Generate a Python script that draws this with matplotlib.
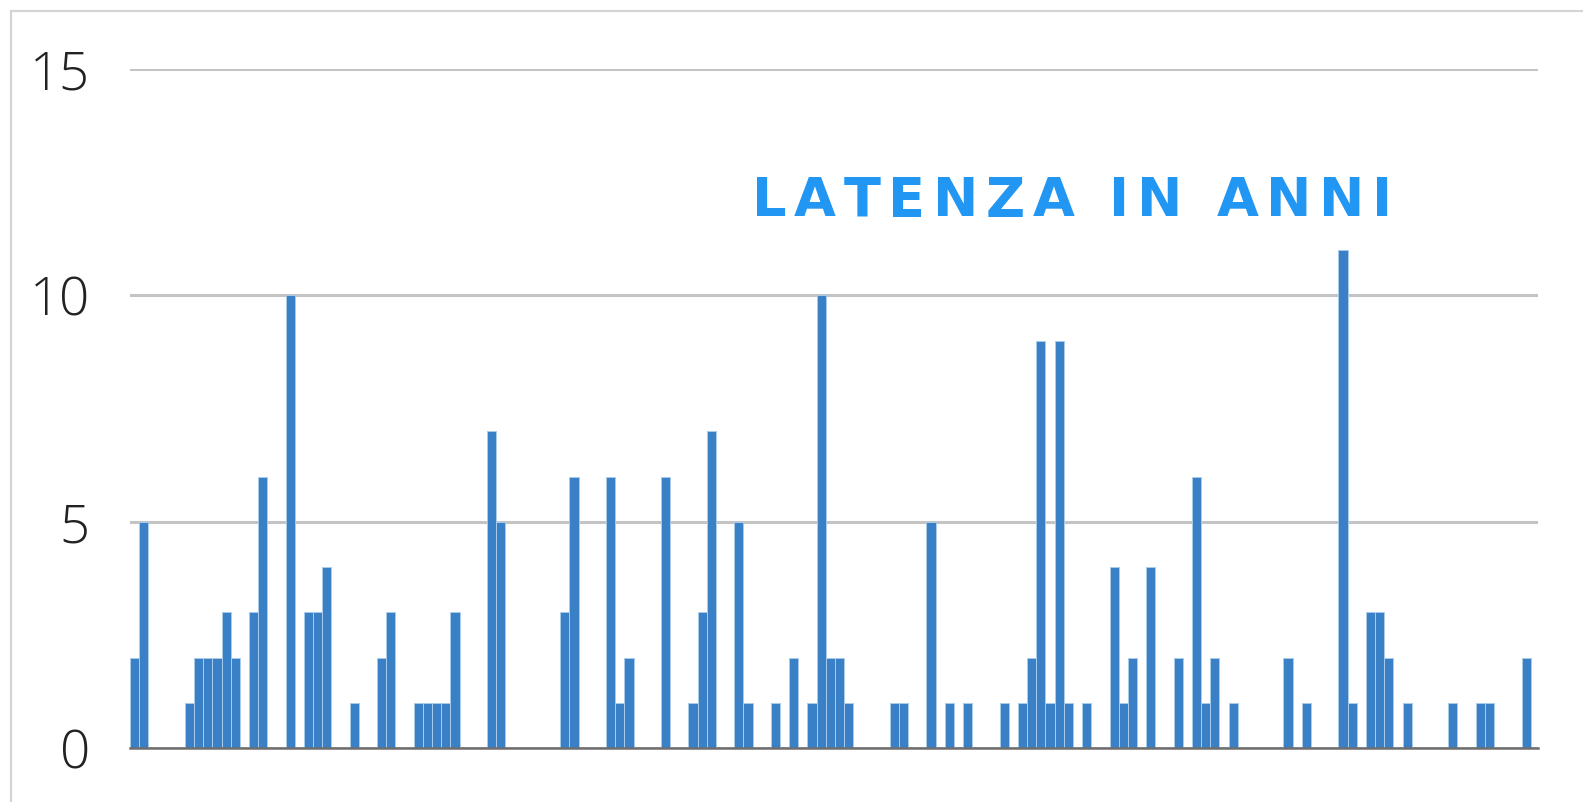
import matplotlib
matplotlib.use("Agg")
import matplotlib.pyplot as plt
from matplotlib.patches import Rectangle
import numpy as np

# Data: latency in years per case
values = [
    2, 5, 0, 0, 0, 0, 1, 2, 2, 2, 3, 2, 0, 3, 6, 0, 0, 10, 0, 3,
    3, 4, 0, 0, 1, 0, 0, 2, 3, 0, 0, 1, 1, 1, 1, 3, 0, 0, 0, 7,
    5, 0, 0, 0, 0, 0, 0, 3, 6, 0, 0, 0, 6, 1, 2, 0, 0, 0, 6, 0,
    0, 1, 3, 7, 0, 0, 5, 1, 0, 0, 1, 0, 2, 0, 1, 10, 2, 2, 1, 0,
    0, 0, 0, 1, 1, 0, 0, 5, 0, 1, 0, 1, 0, 0, 0, 1, 0, 1, 2, 9,
    1, 9, 1, 0, 1, 0, 0, 4, 1, 2, 0, 4, 0, 0, 2, 0, 6, 1, 2, 0,
    1, 0, 0, 0, 0, 0, 2, 0, 1, 0, 0, 0, 11, 1, 0, 3, 3, 2, 0, 1,
    0, 0, 0, 0, 1, 0, 0, 1, 1, 0, 0, 0, 2,
]
yticks = [0, 5, 10, 15]
title = "LATENZA IN ANNI"

W, H = 1583, 802
fig = plt.figure(figsize=(W / 100, H / 100), dpi=100)
fig.patch.set_facecolor("white")

# card border (top and left edges visible)
fig.patches.append(Rectangle((11 / W, -0.1), 1.2, (H - 11) / H + 0.1,
                             transform=fig.transFigure, facecolor="none",
                             edgecolor="#d4d4d4", lw=1.6, zorder=0))

ax = fig.add_axes([130 / W, 53.7 / H, (1538 - 130) / W, (748.3 - 69) / H])
x = np.arange(len(values))
ax.bar(x, values, width=1.0, color="#3a80c6", edgecolor="#a9cbec",
       linewidth=0.7, zorder=3)

ax.set_xlim(-0.5, 153.3)
ax.set_ylim(0, 15)
ax.set_yticks(yticks)
ax.set_yticklabels([str(t) for t in yticks], fontfamily="Open Sans",
                   fontweight="light", fontsize=38, color="#222222")
ax.tick_params(axis="y", length=0, pad=29)
ax.set_xticks([])
for s in ["top", "right", "left"]:
    ax.spines[s].set_visible(False)
ax.spines["bottom"].set_color("#6e6e6e")
ax.spines["bottom"].set_linewidth(1.8)
ax.spines["bottom"].set_zorder(4)
ax.yaxis.grid(True, color="#c4c4c4", linewidth=2.2, zorder=0)
ax.set_axisbelow(True)

# Title: wide, slightly letter-spaced text, each letter a real text object
tkw = dict(fontfamily="DejaVu Sans", fontweight="bold", fontsize=39,
           color="#2196f3", va="center", ha="left")
renderer = fig.canvas.get_renderer()

def txt_width(s):
    tt = fig.text(0, 0, s, **tkw)
    w_ = tt.get_window_extent(renderer).width
    tt.remove()
    return w_

space_w = txt_width("I I") - txt_width("II")
widths = [space_w if c == " " else txt_width(c) for c in title]
target_w = 640.0
gap = (target_w - sum(widths)) / (len(title) - 1)
x_left, y_mid = 752.0, H - 201.0
xp = x_left
for c, wc in zip(title, widths):
    if c != " ":
        fig.text(xp / W, y_mid / H, c, **tkw)
    xp += wc + gap

fig.savefig("out.png", dpi=100, facecolor="white")
